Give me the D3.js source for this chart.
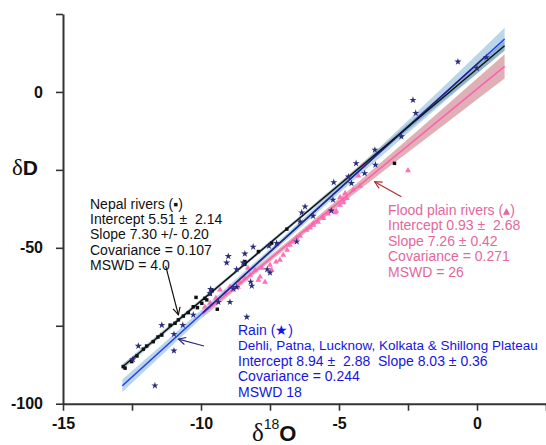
<!DOCTYPE html>
<html><head><meta charset="utf-8">
<script src="https://cdn.jsdelivr.net/npm/d3@7"></script>
<style>
html,body{margin:0;padding:0;background:#fff;}
svg{display:block;font-family:"Liberation Sans",Arial,sans-serif;}
</style></head>
<body>
<svg id="c" width="546" height="445"></svg>
<script>
// ---- data (δ18O, δD) ----
const nepalPts = [[-12.82,-88.1],[-12.75,-88.6],[-12.51,-86.5],[-12.32,-84.7],[-12.09,-82.5],[-11.97,-81.5],
 [-11.73,-80.1],[-11.56,-78.6],[-11.42,-78.0],[-11.12,-74.8],[-10.94,-74.2],[-10.82,-73.1],[-10.64,-71.9],
 [-10.46,-70.8],[-10.28,-68.9],[-10.18,-65.9],[-10.13,-69.2],[-9.97,-67.8],[-9.86,-66.2],[-9.79,-66.7],
 [-9.67,-64.8],[-9.60,-63.8],[-9.41,-69.7],[-8.41,-54.4],[-8.41,-55.3],[-7.92,-51.2],[-7.44,-48.5],
 [-6.89,-44.0],[-2.99,-22.9]];
const rainPts = [[-12.47,-85.8],[-12.27,-81.5],[-11.67,-94.2],[-11.42,-74.8],[-10.98,-77.7],[-10.98,-83.0],
 [-10.66,-74.8],[-10.28,-71.5],[-9.67,-64.6],[-9.65,-63.3],[-9.01,-52.7],[-9.07,-54.8],[-8.11,-49.7],[-8.41,-51.9],
 [-8.95,-67.4],[-9.37,-67.4],[-8.34,-72.2],[-8.83,-63.1],[-8.71,-62.6],[-8.47,-54.8],[-8.71,-56.9],
 [-7.54,-49.4],[-7.26,-48.5],[-7.60,-56.9],[-7.50,-58.0],[-8.20,-60.9],[-8.16,-62.2],[-6.35,-38.7],
 [-6.23,-36.8],[-6.41,-41.6],[-5.94,-39.8],[-5.28,-38.1],[-5.22,-34.6],[-5.19,-29.0],[-4.55,-29.3],
 [-4.66,-27.2],[-4.38,-22.9],[-4.07,-26.1],[-3.68,-23.4],[-3.70,-18.6],[-2.74,-14.3],[-2.32,-2.6],
 [-2.22,-6.8],[-0.69,9.7],[0.0,7.6],[0.34,11.1],[-6.53,-48.0]];
const floodPts = [[-8.95,-62.5],[-8.84,-63.5],[-9.13,-64.5],[-9.46,-66.1],[-9.67,-67.7],[-9.86,-69.0],
 [-8.59,-61.0],[-8.41,-59.7],[-8.22,-58.7],[-7.92,-60.3],[-7.86,-59.3],[-8.04,-57.1],[-7.79,-56.5],
 [-7.50,-55.5],[-7.44,-57.1],[-7.28,-54.5],[-7.14,-53.9],[-7.02,-52.3],[-6.88,-50.7],[-6.78,-49.1],
 [-6.67,-48.1],[-6.53,-46.9],[-6.41,-46.2],[-6.17,-44.3],[-6.05,-43.6],[-5.94,-42.3],[-5.76,-41.7],
 [-5.58,-40.0],[-5.40,-39.1],[-5.10,-38.2],[-5.14,-38.7],[-4.96,-33.8],[-4.86,-34.6],[-4.78,-32.5],
 [-4.72,-34.1],[-4.48,-31.4],[-4.30,-26.9],[-4.24,-30.2],[-4.12,-23.6],[-2.50,-25.2],[-9.31,-63.5],
 [-8.30,-56.5],[-7.68,-61.0],[-8.66,-62.6],[-4.84,-35.5],[-4.96,-36.3],[-5.26,-37.9],[-5.57,-40.5],[-5.93,-42.7]];

// regression lines as drawn: [slope, intercept, xStart, xEnd]
const nepalLine = [7.44, 7.36, -12.85, 1.0];
const rainLine  = [8.03, 8.94, -12.85, 1.0];
const rainCore  = [8.03, 8.94, -9.93, 0.3];
const floodLine = [7.26, 0.93, -9.95, 1.0];
// confidence band half-widths (δD units) read at several δ18O positions
const rainBand  = [[-12.85,2.0],[-10,1.3],[-7,1.0],[-4,1.5],[-1,2.6],[1,3.6]];
const nepalBand = [[-12.85,0.9],[-9,0.6],[-6,0.6],[-3,0.9],[1,1.6]];
const floodBand = [[-9.95,1.1],[-8,0.9],[-6,1.0],[-3,1.9],[-1,2.9],[1,3.9]];

const yTicks = [25,0,-25,-50,-75,-100];
const yLabels = [0,-50,-100];
const xTicks = [-15,-12.5,-10,-7.5,-5,-2.5,0,2.5];
const xLabels = [-15,-10,-5,0];

const nepalText = ["Nepal rivers (\u25AA)","Intercept 5.51 \u00B1  2.14","Slope 7.30 +/- 0.20","Covariance = 0.107","MSWD = 4.0"];
const floodText = ["Flood plain rivers (\u25B4)","Intercept 0.93 \u00B1  2.68","Slope 7.26 \u00B1 0.42","Covariance = 0.271","MSWD = 26"];
const rainText  = ["Rain (\u2605)","Dehli, Patna, Lucknow, Kolkata & Shillong Plateau","Intercept 8.94 \u00B1  2.88  Slope 8.03 \u00B1 0.36","Covariance = 0.244","MSWD 18"];

// annotation arrows in data coords [x1,y1,x2,y2]
const nepalArrow = [-11.28,-55.8,-10.82,-71.5];
const rainArrow  = [-9.89,-81.5,-10.82,-79.3];
const floodArrow = [-2.74,-33.6,-3.71,-28.8];

// ---- drawing ----
const svg = d3.select("#c");
const x = d3.scaleLinear().domain([-15,2.5]).range([63,546]);
const y = d3.scaleLinear().domain([-100,25]).range([403.7,14]);

const defs = svg.append("defs");
function marker(id,color){
  defs.append("marker").attr("id",id).attr("viewBox","0 0 10 10").attr("refX",9).attr("refY",5)
   .attr("markerWidth",9).attr("markerHeight",9).attr("orient","auto").attr("markerUnits","userSpaceOnUse")
   .append("path").attr("d","M1,1 L9,5 L1,9").attr("fill","none").attr("stroke",color).attr("stroke-width",1.3);
}
marker("mk","#111"); marker("mb","#2a2a80"); marker("mr","#b0302a");

function band(line, hw, fill, op){
  const area = d3.area().curve(d3.curveMonotoneX)
    .x(d=>x(d[0])).y0(d=>y(line[0]*d[0]+line[1]-d[1])).y1(d=>y(line[0]*d[0]+line[1]+d[1]));
  svg.append("path").attr("d",area(hw)).attr("fill",fill).attr("fill-opacity",op);
}
band(floodLine, floodBand, "#d9a3aa", 0.85);
band(rainLine, rainBand, "#b3d2e6", 0.9);
band(nepalLine, nepalBand, "#6f9cb5", 0.6);

function drawLine(l, color, w){
  svg.append("line").attr("x1",x(l[2])).attr("y1",y(l[0]*l[2]+l[1]))
    .attr("x2",x(l[3])).attr("y2",y(l[0]*l[3]+l[1])).attr("stroke",color).attr("stroke-width",w);
}

// points
const sq = d3.symbol().type(d3.symbolSquare).size(12);
const st = d3.symbol().type(d3.symbolStar).size(16);
const tr = d3.symbol().type(d3.symbolTriangle).size(15);
svg.append("g").selectAll("path").data(floodPts).join("path").attr("d",tr)
  .attr("transform",d=>`translate(${x(d[0])},${y(d[1])})`).attr("fill","#ff6fb5");
drawLine(floodLine,"#ff5fae",1.5);
drawLine(rainLine,"#1f3cff",1.5);
drawLine(rainCore,"#262680",1.5);
drawLine(nepalLine,"#111",1.5);
svg.append("g").selectAll("path").data(nepalPts).join("path").attr("d",sq)
  .attr("transform",d=>`translate(${x(d[0])},${y(d[1])})`).attr("fill","#111");
svg.append("g").selectAll("path").data(rainPts).join("path").attr("d",st)
  .attr("transform",d=>`translate(${x(d[0])},${y(d[1])})`).attr("fill","#2c2c7c");

// axes
const ya = svg.append("g").attr("transform",`translate(${x(-15)},0)`)
  .call(d3.axisLeft(y).tickValues(yTicks).tickSize(7).tickPadding(13).tickSizeOuter(0)
   .tickFormat(d=>yLabels.includes(d)?String(d):""));
const xa = svg.append("g").attr("transform",`translate(0,${y(-100)})`)
  .call(d3.axisBottom(x).tickValues(xTicks).tickSize(7).tickPadding(7).tickSizeOuter(0)
   .tickFormat(d=>xLabels.includes(d)?String(d):""));
[ya,xa].forEach(a=>{
  a.select(".domain").attr("stroke","#333").attr("stroke-width",2);
  a.selectAll(".tick line").attr("stroke","#333").attr("stroke-width",1.6);
  a.selectAll(".tick text").attr("font-family","Liberation Sans, Arial, sans-serif")
    .attr("font-size",16).attr("font-weight","bold").attr("fill","#111");
});

// axis titles
const yt = svg.append("text").attr("x",12).attr("y",175).attr("fill","#111");
yt.append("tspan").attr("font-family","Liberation Serif, Times New Roman, serif").attr("font-size",23).text("\u03B4");
yt.append("tspan").attr("font-weight","bold").attr("font-size",21).text("D");
const xt = svg.append("text").attr("x",252).attr("y",441).attr("fill","#111");
xt.append("tspan").attr("font-family","Liberation Serif, Times New Roman, serif").attr("font-size",25).text("\u03B4");
xt.append("tspan").attr("font-size",14).attr("dy",-12).text("18");
xt.append("tspan").attr("font-weight","bold").attr("font-size",22).attr("dy",12).text("O");

// annotations
function block(lines, px, py0, color){
  svg.append("g").selectAll("text").data(lines).join("text")
    .attr("x",px).attr("y",(d,i)=>py0+i*15.4).attr("fill",color).attr("font-size",14)
    .style("white-space","pre").text(d=>d)
    .each(function(){
      const maxW = 538 - px;
      const w = this.getComputedTextLength();
      if (w > maxW) d3.select(this).attr("font-size", 14 * maxW / w);
    });
}
block(nepalText, 90, 208.5, "#111");
block(floodText, 388, 215, "#e2689d");
block(rainText, 238, 335, "#1616e0");

function arrow(a,color,mk){
  svg.append("line").attr("x1",x(a[0])).attr("y1",y(a[1])).attr("x2",x(a[2])).attr("y2",y(a[3]))
    .attr("stroke",color).attr("stroke-width",1.2).attr("marker-end",`url(#${mk})`);
}
arrow(nepalArrow,"#111","mk");
arrow(rainArrow,"#2a2a80","mb");
arrow(floodArrow,"#b0302a","mr");
</script>
</body></html>
